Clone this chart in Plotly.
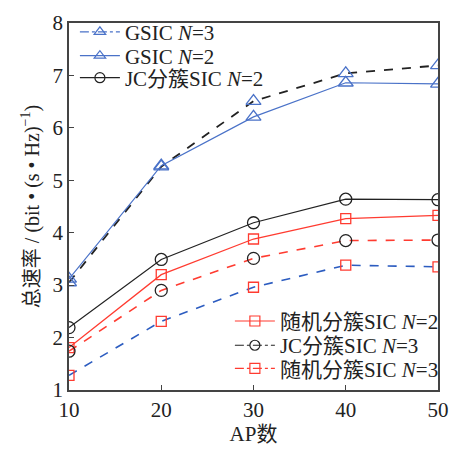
import plotly.graph_objects as go

ap = [10, 20, 30, 40, 50]
# values as drawn in the plot area
gsic_n3 = [3.05, 5.26, 6.51, 7.04, 7.19]
gsic_n2 = [3.12, 5.28, 6.21, 6.86, 6.84]
jc_n2 = [2.19, 3.49, 4.19, 4.64, 4.63]
rand_n2 = [1.81, 3.20, 3.88, 4.27, 4.33]
jc_n3 = [1.74, 2.90, 3.51, 3.85, 3.86]
rand_n3 = [1.28, 2.31, 2.96, 3.38, 3.35]

legend_names = ["GSIC <i>N</i>=3", "GSIC <i>N</i>=2", "JC分簇SIC <i>N</i>=2",
                "随机分簇SIC <i>N</i>=2", "JC分簇SIC <i>N</i>=3", "随机分簇SIC <i>N</i>=3"]

BLUE = "#4a72c8"
BLUE_D = "#2c5cc0"
RED = "#ff3b30"
BLACK = "#222222"
FONT = "'Liberation Serif', 'Times New Roman', 'Noto Sans CJK SC', serif"

fig = go.Figure()

def data_trace(y, lcolor, dash, symbol, mcolor, msize, lwidth=1.3):
    fig.add_trace(go.Scatter(
        x=ap, y=y, mode="lines+markers", showlegend=False,
        line=dict(color=lcolor, dash=dash, width=lwidth),
        marker=dict(symbol=symbol, size=msize, color=mcolor,
                    line=dict(color=mcolor, width=1.3)),
    ))

data_trace(gsic_n3, BLACK, "dash", "triangle-up-open", BLUE, 13, 1.8)
data_trace(gsic_n2, BLUE, "solid", "triangle-up-open", BLUE, 13, 1.2)
data_trace(jc_n2, BLACK, "solid", "circle-open", BLACK, 12, 1.2)
data_trace(rand_n2, RED, "solid", "square-open", RED, 10, 1.3)
data_trace(jc_n3, RED, "dash", "circle-open", BLACK, 12, 1.6)
data_trace(rand_n3, BLUE_D, "dash", "square-open", RED, 10, 1.6)

legend_styles = [
    (BLUE, "dashdot", "triangle-up-open"),
    (BLUE, "solid", "triangle-up-open"),
    (BLACK, "solid", "circle-open"),
    (RED, "solid", "square-open"),
    (BLACK, "dashdot", "circle-open"),
    (RED, "dashdot", "square-open"),
]
legend_ids = ["legend", "legend2", "legend3", "legend4", "legend5", "legend6"]
legend_pos = [(0.016, 0.975), (0.016, 0.910), (0.016, 0.850),
              (0.436, 0.187), (0.436, 0.121), (0.436, 0.058)]

for name, (col, dash, sym), lid in zip(legend_names, legend_styles, legend_ids):
    fig.add_trace(go.Scatter(
        x=[None], y=[None], mode="lines+markers", name=name, legend=lid,
        line=dict(color=col, dash=dash, width=1.2),
        marker=dict(symbol=sym, size=10, color=col,
                    line=dict(color=col, width=1.2)),
    ))

axis_common = dict(
    showline=True, mirror=True, linecolor="#444444", linewidth=1.5,
    ticks="inside", ticklen=5, tickcolor="#444444", tickwidth=1.2,
    showgrid=False, zeroline=False,
    tickfont=dict(family=FONT, size=21, color="#222222"),
)

legends = {}
for lid, (lx, ly) in zip(legend_ids, legend_pos):
    legends[lid] = dict(x=lx, y=ly, xanchor="left", yanchor="middle",
                        bgcolor="rgba(0,0,0,0)", font=dict(family=FONT, size=21),
                        itemwidth=40)

fig.update_layout(
    width=460, height=450,
    margin=dict(l=69, r=11, t=18, b=53),
    paper_bgcolor="white", plot_bgcolor="white",
    font=dict(family=FONT, color="#222222"),
    xaxis=dict(range=[10, 50], tickvals=[10, 20, 30, 40, 50],
               title=dict(text="AP数", font=dict(family=FONT, size=21), standoff=2),
               **axis_common),
    yaxis=dict(range=[1, 8], tickvals=[1, 2, 3, 4, 5, 6, 7, 8],
               title=dict(text="总速率 / (bit • (s • Hz)<sup>−1</sup>)",
                          font=dict(family=FONT, size=20), standoff=8),
               **axis_common),
    **legends,
)

fig.write_html("out.html")
